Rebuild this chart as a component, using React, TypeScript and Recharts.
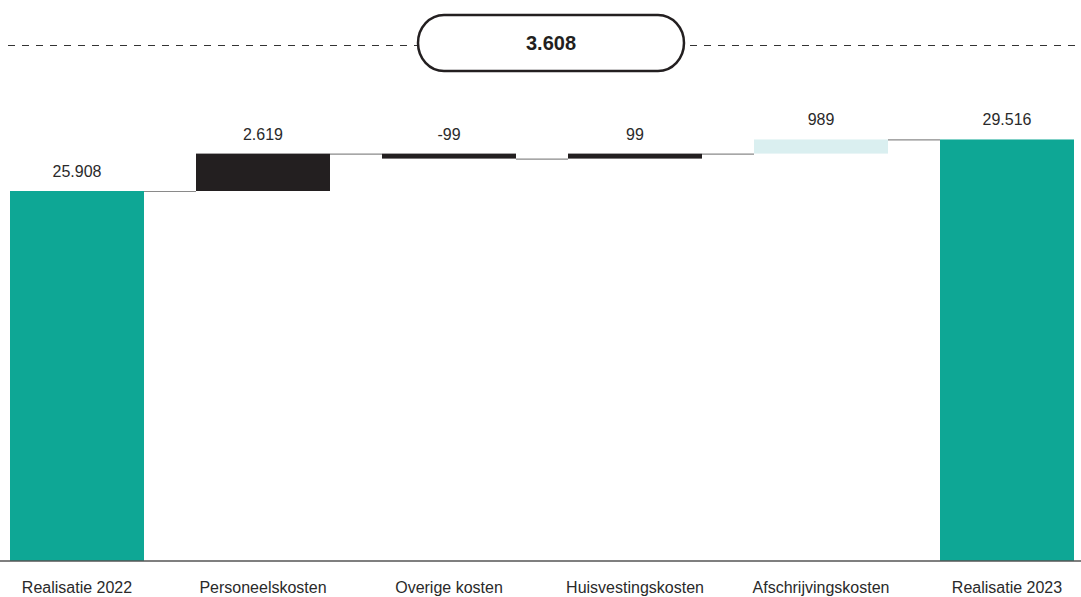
import React from 'react';
import { BarChart, Bar, XAxis, YAxis, LabelList } from 'recharts';

const categories = ['Realisatie 2022', 'Personeelskosten', 'Overige kosten', 'Huisvestingskosten', 'Afschrijvingskosten', 'Realisatie 2023'];
const values = [25908, 2619, -99, 99, 989, 29516];
const kinds = ['total', 'delta', 'delta', 'delta', 'delta', 'total'];
const valueLabels = ['25.908', '2.619', '-99', '99', '989', '29.516'];
const totalChange = '3.608';
const yTicks = [0, 32000];

const TEAL = '#0ea795';
const DARK = '#231f20';
const LIGHT = '#daeff0';
const FONT = '"Liberation Sans", Arial, sans-serif';

const colorFor = (kind: string, v: number) => {
  if (kind === 'total') return TEAL;
  if (v >= 500 && v < 2000) return LIGHT;
  return DARK;
};

// waterfall ranges from running total
let running = 0;
const chartData = categories.map((name, i) => {
  const v = values[i];
  let range: [number, number];
  if (kinds[i] === 'total') {
    range = [0, v];
    running = v;
  } else {
    const start = running;
    running = start + v;
    range = [Math.min(start, running), Math.max(start, running)];
  }
  return { name, range, value: v, kind: kinds[i], label: valueLabels[i], fill: colorFor(kinds[i], v) };
});

const CHART_W = 1116;
const BAND = CHART_W / categories.length;
const BAR_W = 134;
const MIN_H = 5;

const WaterfallShape = (props: any) => {
  const { x, y, width, height, index, payload } = props;
  const h = Math.max(Math.abs(height), MIN_H);
  const top = height < 0 ? y + height : y;
  const last = index === categories.length - 1;
  const lineY = payload.kind === 'delta' && payload.value < 0 ? top + h : top;
  return (
    <g>
      <rect x={x} y={top} width={width} height={h} fill={payload.fill} />
      {!last && (
        <line x1={x + width} x2={x + BAND} y1={lineY + 0.5} y2={lineY + 0.5} stroke="#8a8a8a" strokeWidth={1.2} />
      )}
    </g>
  );
};

export default function App() {
  return (
    <div style={{ position: 'fixed', left: 0, top: 0, width: 1081, height: 597, overflow: 'hidden', background: '#fff', fontFamily: FONT }}>
      <div style={{ position: 'absolute', left: -16, top: 0 }}>
        <BarChart width={CHART_W} height={597} data={chartData} margin={{ top: 104, right: 0, left: 0, bottom: 0 }} barSize={BAR_W} barCategoryGap={0}>
          <YAxis hide domain={[yTicks[0], yTicks[1]]} />
          <XAxis
            dataKey="name"
            height={36}
            axisLine={{ stroke: '#555', strokeWidth: 1.3 }}
            tickLine={false}
            tickSize={0}
            tickMargin={21}
            interval={0}
            tick={{ fill: '#2a2a2a', fontSize: 16, fontFamily: FONT }}
          />
          <Bar dataKey="range" shape={WaterfallShape} isAnimationActive={false}>
            <LabelList dataKey="label" position="top" offset={14} fill="#2a2a2a" fontSize={16} fontFamily={FONT} />
          </Bar>
        </BarChart>
      </div>
      <svg width={1081} height={100} style={{ position: 'absolute', left: 0, top: 0 }}>
        <line x1={8} x2={417} y1={45.5} y2={45.5} stroke="#333" strokeWidth={1.2} strokeDasharray="7 7" />
        <line x1={690} x2={1081} y1={45.5} y2={45.5} stroke="#333" strokeWidth={1.2} strokeDasharray="7 7" />
        <rect x={418} y={15} width={266} height={56} rx={26} ry={28} fill="#fff" stroke={DARK} strokeWidth={2.5} />
        <text x={551} y={50} textAnchor="middle" fontSize={20} fontWeight="bold" fill={DARK} fontFamily={FONT}>
          {totalChange}
        </text>
      </svg>
    </div>
  );
}
